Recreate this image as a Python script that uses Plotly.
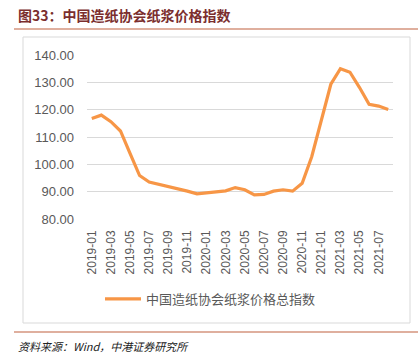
import plotly.graph_objects as go

months = ["2019-01","2019-02","2019-03","2019-04","2019-05","2019-06","2019-07","2019-08",
          "2019-09","2019-10","2019-11","2019-12","2020-01","2020-02","2020-03","2020-04",
          "2020-05","2020-06","2020-07","2020-08","2020-09","2020-10","2020-11","2020-12",
          "2021-01","2021-02","2021-03","2021-04","2021-05","2021-06","2021-07","2021-08"]
index_values = [116.8, 118.0, 115.6, 112.2, 104.0, 95.9, 93.5, 92.7,
                92.0, 91.2, 90.2, 89.2, 89.6, 89.8, 90.3, 91.5,
                90.7, 88.8, 89.0, 90.2, 90.7, 90.2, 93.1, 102.8,
                115.6, 129.3, 135.0, 133.7, 128.1, 122.0, 121.3, 120.1]
tick_labels = months[::2]
y_ticks = [80, 90, 100, 110, 120, 130, 140]
series_name = "中国造纸协会纸浆价格总指数"

W, H = 420, 359
L, R, T, B = 87, 393, 55, 219

def px(x):
    return (x - L) / (R - L)

def py(y):
    return (B - y) / (B - T)

fig = go.Figure()
fig.add_trace(go.Scatter(x=months, y=index_values, mode="lines", name=series_name,
                         line=dict(color="#F79646", width=3.2), showlegend=True))

fig.update_layout(
    width=W, height=H,
    margin=dict(l=L, r=W - R, t=T, b=H - B),
    paper_bgcolor="white", plot_bgcolor="white",
    font=dict(family="Liberation Sans, Noto Sans CJK SC", color="#595959"),
    xaxis=dict(type="category", range=[-0.5, len(months) - 0.5],
               tickvals=tick_labels, ticktext=tick_labels, tickangle=-90,
               tickfont=dict(size=12, color="#595959"), showgrid=False,
               showline=False, zeroline=False, ticks="", ticklabelstandoff=8),
    yaxis=dict(range=[80, 140], tickvals=y_ticks,
               ticktext=[f"{v:.2f}" for v in y_ticks],
               tickfont=dict(size=13, color="#595959"), showgrid=True,
               gridcolor="#D9D9D9", gridwidth=1, zeroline=False, showline=False,
               ticks="", ticklabelstandoff=12),
    legend=dict(x=px(100), y=py(299), xanchor="left", yanchor="middle",
                orientation="h", font=dict(size=13, color="#595959",
                family="Noto Sans CJK SC"), itemwidth=36,
                bgcolor="rgba(0,0,0,0)"),
    showlegend=True,
)

shapes = [
    dict(type="rect", xref="paper", yref="paper", x0=px(23), x1=px(410), y0=py(323), y1=py(37),
         line=dict(color="#D9D9D9", width=1), fillcolor="rgba(0,0,0,0)", layer="below"),
    dict(type="line", xref="paper", yref="paper", x0=px(14), x1=px(418), y0=py(29), y1=py(29),
         line=dict(color="#C0603F", width=1.2)),
    dict(type="line", xref="paper", yref="paper", x0=px(14), x1=px(418), y0=py(332), y1=py(332),
         line=dict(color="#C0603F", width=1.2)),
]
fig.update_layout(shapes=shapes)

fig.add_annotation(xref="paper", yref="paper", x=px(16), y=py(15), xanchor="left", yanchor="middle",
                   text="<b>图33：中国造纸协会纸浆价格指数</b>", showarrow=False,
                   font=dict(size=14, color="#7B2E2E", family="Noto Sans CJK SC"))
fig.add_annotation(xref="paper", yref="paper", x=px(16), y=py(346), xanchor="left", yanchor="middle",
                   text="<i>资料来源：Wind，中港证券研究所</i>", showarrow=False,
                   font=dict(size=11, color="#222222", family="Noto Sans CJK SC"))

fig.write_html("out.html", config={"displayModeBar": False},
               post_script="document.body.style.margin='0';document.body.style.overflow='hidden';")
